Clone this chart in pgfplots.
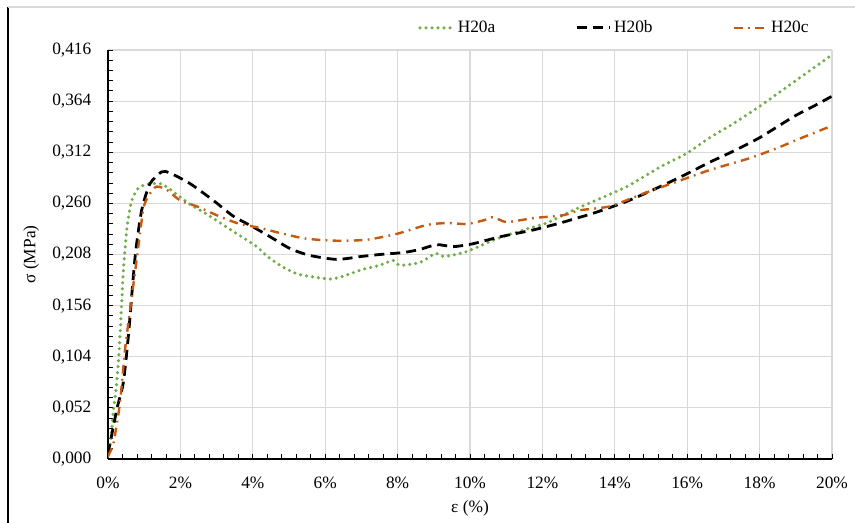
\documentclass[border=0pt]{standalone}
\usepackage{fontspec}
\setmainfont{Liberation Serif}
\usepackage{pgfplots}
\pgfplotsset{compat=1.18}
\definecolor{cgreen}{RGB}{112,173,71}
\definecolor{corange}{RGB}{197,90,17}
\definecolor{cgrid}{RGB}{217,217,217}
\pgfplotstableread{
x y
0 0.003
0.08 0.02
0.15 0.05
0.24 0.077
0.31 0.111
0.38 0.160
0.43 0.195
0.52 0.234
0.65 0.262
0.85 0.276
1.15 0.280
1.45 0.280
1.65 0.276
1.90 0.269
2.27 0.259
2.73 0.249
3.19 0.238
3.65 0.227
4.11 0.216
4.40 0.206
4.84 0.195
5.25 0.188
5.70 0.185
6.15 0.183
6.50 0.186
7.05 0.193
7.50 0.197
7.88 0.202
8.07 0.197
8.62 0.200
9.05 0.209
9.30 0.206
9.91 0.211
10.74 0.224
11.57 0.234
12.12 0.240
12.85 0.253
13.41 0.262
14.33 0.277
15.25 0.297
15.99 0.311
16.63 0.327
17.27 0.341
18.01 0.359
18.93 0.383
19.50 0.398
20.00 0.411
}\dataA
\pgfplotstableread{
x y
0 0.005
0.24 0.050
0.42 0.077
0.56 0.124
0.75 0.206
0.93 0.253
1.16 0.280
1.48 0.292
1.71 0.291
2.27 0.280
2.91 0.263
3.46 0.247
4.01 0.236
4.48 0.226
5.03 0.214
5.58 0.207
6.32 0.203
7.00 0.206
7.51 0.208
8.16 0.210
8.60 0.213
9.08 0.218
9.54 0.216
10.09 0.219
10.83 0.226
11.75 0.233
12.49 0.240
12.95 0.245
13.41 0.250
14.33 0.262
15.25 0.277
15.99 0.290
16.63 0.302
17.27 0.313
18.01 0.327
18.93 0.348
19.50 0.359
20.00 0.369
}\dataB
\pgfplotstableread{
x y
0 0.003
0.15 0.016
0.33 0.057
0.47 0.111
0.61 0.152
0.79 0.202
0.98 0.255
1.16 0.270
1.34 0.277
1.62 0.274
1.99 0.263
2.45 0.257
3.00 0.248
3.56 0.240
4.20 0.235
4.84 0.229
5.49 0.224
6.32 0.222
7.15 0.223
7.98 0.229
8.80 0.238
9.36 0.240
9.91 0.239
10.40 0.243
10.64 0.246
11.01 0.241
11.75 0.245
12.58 0.248
13.04 0.253
13.87 0.257
14.79 0.270
15.71 0.282
16.63 0.294
17.73 0.306
18.47 0.316
19.12 0.326
20.00 0.339
}\dataC
\begin{document}
\fontsize{13}{15}\selectfont
\begin{tikzpicture}
\path[use as bounding box] (0,0) rectangle (641.25pt,392.25pt);
\draw[black, line width=1.2pt] (6pt,0) -- (6pt,387pt);
\draw[cgrid, line width=0.9pt] (6pt,387pt) -- (641.25pt,387pt);
\begin{axis}[
  at={(81pt,48pt)}, anchor=south west,
  scale only axis, width=543pt, height=306.75pt,
  xmin=0, xmax=20, ymin=0, ymax=0.416,
  xtick={0,2,4,6,8,10,12,14,16,18,20},
  ytick={0,0.052,0.104,0.156,0.208,0.26,0.312,0.364,0.416},
  minor x tick num=4, minor y tick num=4,
  axis x line*=bottom, axis y line*=left,
  axis line style={black, line width=0.8pt, -},
  tick align=inside,
  major tick length=4pt, minor tick length=3.5pt,
  tick style={black, line width=0.6pt},
  grid=major, major grid style={cgrid, line width=0.8pt},
  /pgf/number format/assume math mode=true,
  xticklabel={\pgfmathprintnumber[fixed,precision=0]{\tick}\%},
  yticklabel style={/pgf/number format/fixed, /pgf/number format/fixed zerofill, /pgf/number format/precision=3, /pgf/number format/use comma, xshift=-8pt},
  xticklabel style={yshift=-9pt},
  ticklabel style={font=\fontsize{13}{15}\selectfont},
  label style={font=\fontsize{13}{15}\selectfont},
  xlabel={ε (\%)}, ylabel={σ (MPa)},
  ylabel shift=1pt,
  legend style={at={(0.70,1.054)}, anchor=center, draw=none, fill=none,
    font=\fontsize{13}{15}\selectfont,
    /tikz/every even column/.append style={column sep=58pt}},
  legend columns=3,
  legend cell align=left,
  legend image code/.code={\draw[#1] (0pt,0pt) -- (25pt,0pt);},
]
\addplot[cgreen, line width=2.6pt, line cap=round, dash pattern=on 0pt off 4.5pt, smooth, tension=0.4] table {\dataA};
\addlegendentry{H20a}
\addplot[black, line width=2.1pt, dash pattern=on 7.5pt off 4.5pt, smooth, tension=0.4] table {\dataB};
\addlegendentry{H20b}
\addplot[corange, line width=1.8pt, dash pattern=on 6.5pt off 4pt on 1.3pt off 4pt, smooth, tension=0.4] table {\dataC};
\addlegendentry{H20c}
\end{axis}
\end{tikzpicture}
\end{document}
